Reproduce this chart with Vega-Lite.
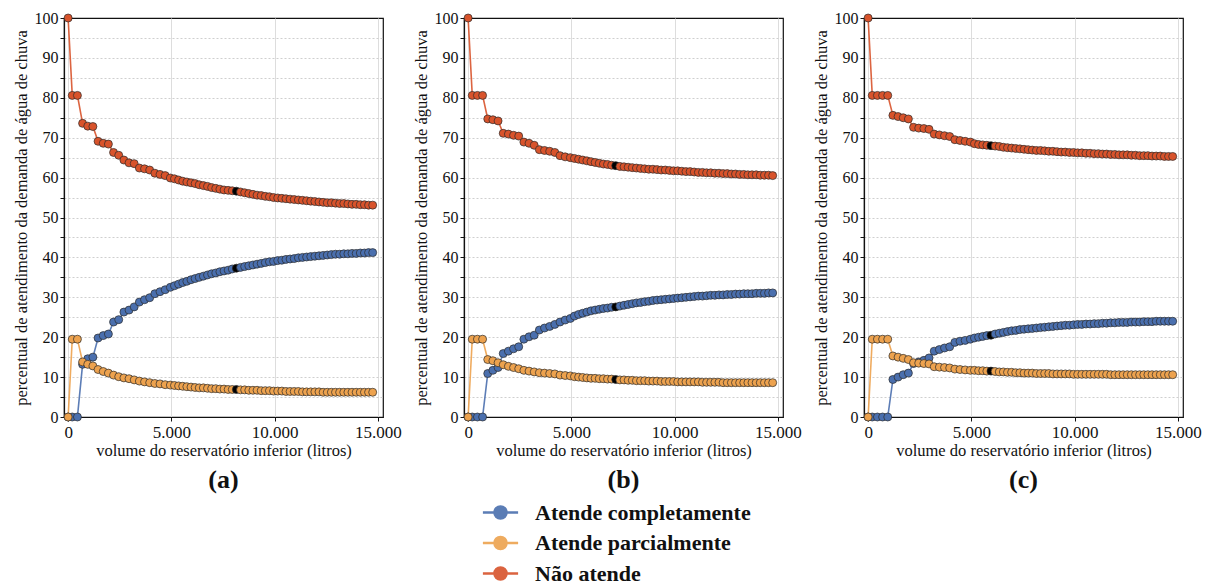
{
  "$schema": "https://vega.github.io/schema/vega-lite/v6.json",
  "background": "white",
  "padding": {"left": 12, "top": 9, "right": 10, "bottom": 0},
  "data": {"values": [
{"g":"(a)","s":"N","x":0,"y":100},{"g":"(a)","s":"N","x":200,"y":80.6},{"g":"(a)","s":"N","x":450,"y":80.6},{"g":"(a)","s":"N","x":700,"y":73.6},{"g":"(a)","s":"N","x":950,"y":72.9},{"g":"(a)","s":"N","x":1200,"y":72.8},{"g":"(a)","s":"N","x":1450,"y":69.1},{"g":"(a)","s":"N","x":1700,"y":68.6},{"g":"(a)","s":"N","x":1950,"y":68.4},{"g":"(a)","s":"N","x":2200,"y":66.3},
{"g":"(a)","s":"N","x":2450,"y":65.6},{"g":"(a)","s":"N","x":2700,"y":64.4},{"g":"(a)","s":"N","x":2950,"y":63.7},{"g":"(a)","s":"N","x":3200,"y":63.5},{"g":"(a)","s":"N","x":3450,"y":62.4},{"g":"(a)","s":"N","x":3700,"y":62.2},{"g":"(a)","s":"N","x":3950,"y":61.9},{"g":"(a)","s":"N","x":4200,"y":61.1},{"g":"(a)","s":"N","x":4450,"y":60.8},{"g":"(a)","s":"N","x":4700,"y":60.5},
{"g":"(a)","s":"N","x":4950,"y":59.9},{"g":"(a)","s":"N","x":5150,"y":59.7},{"g":"(a)","s":"N","x":5350,"y":59.4},{"g":"(a)","s":"N","x":5550,"y":59.1},{"g":"(a)","s":"N","x":5750,"y":58.9},{"g":"(a)","s":"N","x":5950,"y":58.7},{"g":"(a)","s":"N","x":6150,"y":58.5},{"g":"(a)","s":"N","x":6350,"y":58.2},{"g":"(a)","s":"N","x":6550,"y":58.0},{"g":"(a)","s":"N","x":6750,"y":57.8},
{"g":"(a)","s":"N","x":6950,"y":57.5},{"g":"(a)","s":"N","x":7150,"y":57.3},{"g":"(a)","s":"N","x":7350,"y":57.1},{"g":"(a)","s":"N","x":7550,"y":56.9},{"g":"(a)","s":"N","x":7750,"y":56.8},{"g":"(a)","s":"N","x":7950,"y":56.7},{"g":"(a)","s":"N","x":8150,"y":56.6,"h":1},{"g":"(a)","s":"N","x":8350,"y":56.4},{"g":"(a)","s":"N","x":8550,"y":56.2},{"g":"(a)","s":"N","x":8750,"y":56.0},
{"g":"(a)","s":"N","x":8950,"y":55.8},{"g":"(a)","s":"N","x":9150,"y":55.6},{"g":"(a)","s":"N","x":9350,"y":55.5},{"g":"(a)","s":"N","x":9550,"y":55.3},{"g":"(a)","s":"N","x":9750,"y":55.2},{"g":"(a)","s":"N","x":9950,"y":55.0},{"g":"(a)","s":"N","x":10150,"y":54.9},{"g":"(a)","s":"N","x":10350,"y":54.8},{"g":"(a)","s":"N","x":10550,"y":54.7},{"g":"(a)","s":"N","x":10750,"y":54.6},
{"g":"(a)","s":"N","x":10950,"y":54.5},{"g":"(a)","s":"N","x":11150,"y":54.4},{"g":"(a)","s":"N","x":11350,"y":54.3},{"g":"(a)","s":"N","x":11550,"y":54.2},{"g":"(a)","s":"N","x":11750,"y":54.1},{"g":"(a)","s":"N","x":11950,"y":54.0},{"g":"(a)","s":"N","x":12150,"y":53.9},{"g":"(a)","s":"N","x":12350,"y":53.8},{"g":"(a)","s":"N","x":12550,"y":53.7},{"g":"(a)","s":"N","x":12750,"y":53.7},
{"g":"(a)","s":"N","x":12950,"y":53.6},{"g":"(a)","s":"N","x":13150,"y":53.5},{"g":"(a)","s":"N","x":13350,"y":53.5},{"g":"(a)","s":"N","x":13550,"y":53.4},{"g":"(a)","s":"N","x":13750,"y":53.3},{"g":"(a)","s":"N","x":13950,"y":53.3},{"g":"(a)","s":"N","x":14150,"y":53.2},{"g":"(a)","s":"N","x":14350,"y":53.2},{"g":"(a)","s":"N","x":14550,"y":53.1},{"g":"(a)","s":"N","x":14750,"y":53.1},
{"g":"(a)","s":"C","x":0,"y":0},{"g":"(a)","s":"C","x":200,"y":0},{"g":"(a)","s":"C","x":450,"y":0},{"g":"(a)","s":"C","x":700,"y":13.2},{"g":"(a)","s":"C","x":950,"y":14.6},{"g":"(a)","s":"C","x":1200,"y":15.0},{"g":"(a)","s":"C","x":1450,"y":19.8},{"g":"(a)","s":"C","x":1700,"y":20.4},{"g":"(a)","s":"C","x":1950,"y":20.8},{"g":"(a)","s":"C","x":2200,"y":23.8},
{"g":"(a)","s":"C","x":2450,"y":24.4},{"g":"(a)","s":"C","x":2700,"y":26.3},{"g":"(a)","s":"C","x":2950,"y":26.8},{"g":"(a)","s":"C","x":3200,"y":27.6},{"g":"(a)","s":"C","x":3450,"y":28.8},{"g":"(a)","s":"C","x":3700,"y":29.4},{"g":"(a)","s":"C","x":3950,"y":29.9},{"g":"(a)","s":"C","x":4200,"y":30.9},{"g":"(a)","s":"C","x":4450,"y":31.4},{"g":"(a)","s":"C","x":4700,"y":31.9},
{"g":"(a)","s":"C","x":4950,"y":32.5},{"g":"(a)","s":"C","x":5150,"y":32.9},{"g":"(a)","s":"C","x":5350,"y":33.3},{"g":"(a)","s":"C","x":5550,"y":33.7},{"g":"(a)","s":"C","x":5750,"y":34.0},{"g":"(a)","s":"C","x":5950,"y":34.4},{"g":"(a)","s":"C","x":6150,"y":34.7},{"g":"(a)","s":"C","x":6350,"y":35.0},{"g":"(a)","s":"C","x":6550,"y":35.3},{"g":"(a)","s":"C","x":6750,"y":35.6},
{"g":"(a)","s":"C","x":6950,"y":35.9},{"g":"(a)","s":"C","x":7150,"y":36.1},{"g":"(a)","s":"C","x":7350,"y":36.4},{"g":"(a)","s":"C","x":7550,"y":36.6},{"g":"(a)","s":"C","x":7750,"y":36.8},{"g":"(a)","s":"C","x":7950,"y":37.1},{"g":"(a)","s":"C","x":8150,"y":37.3,"h":1},{"g":"(a)","s":"C","x":8350,"y":37.5},{"g":"(a)","s":"C","x":8550,"y":37.7},{"g":"(a)","s":"C","x":8750,"y":37.9},
{"g":"(a)","s":"C","x":8950,"y":38.1},{"g":"(a)","s":"C","x":9150,"y":38.3},{"g":"(a)","s":"C","x":9350,"y":38.5},{"g":"(a)","s":"C","x":9550,"y":38.7},{"g":"(a)","s":"C","x":9750,"y":38.9},{"g":"(a)","s":"C","x":9950,"y":39.0},{"g":"(a)","s":"C","x":10150,"y":39.2},{"g":"(a)","s":"C","x":10350,"y":39.3},{"g":"(a)","s":"C","x":10550,"y":39.5},{"g":"(a)","s":"C","x":10750,"y":39.6},
{"g":"(a)","s":"C","x":10950,"y":39.7},{"g":"(a)","s":"C","x":11150,"y":39.9},{"g":"(a)","s":"C","x":11350,"y":40.0},{"g":"(a)","s":"C","x":11550,"y":40.1},{"g":"(a)","s":"C","x":11750,"y":40.2},{"g":"(a)","s":"C","x":11950,"y":40.3},{"g":"(a)","s":"C","x":12150,"y":40.4},{"g":"(a)","s":"C","x":12350,"y":40.5},{"g":"(a)","s":"C","x":12550,"y":40.6},{"g":"(a)","s":"C","x":12750,"y":40.7},
{"g":"(a)","s":"C","x":12950,"y":40.8},{"g":"(a)","s":"C","x":13150,"y":40.8},{"g":"(a)","s":"C","x":13350,"y":40.9},{"g":"(a)","s":"C","x":13550,"y":40.9},{"g":"(a)","s":"C","x":13750,"y":41.0},{"g":"(a)","s":"C","x":13950,"y":41.0},{"g":"(a)","s":"C","x":14150,"y":41.1},{"g":"(a)","s":"C","x":14350,"y":41.1},{"g":"(a)","s":"C","x":14550,"y":41.2},{"g":"(a)","s":"C","x":14750,"y":41.2},
{"g":"(a)","s":"P","x":0,"y":0},{"g":"(a)","s":"P","x":200,"y":19.5},{"g":"(a)","s":"P","x":450,"y":19.5},{"g":"(a)","s":"P","x":700,"y":13.8},{"g":"(a)","s":"P","x":950,"y":13.2},{"g":"(a)","s":"P","x":1200,"y":12.8},{"g":"(a)","s":"P","x":1450,"y":11.9},{"g":"(a)","s":"P","x":1700,"y":11.4},{"g":"(a)","s":"P","x":1950,"y":11.0},{"g":"(a)","s":"P","x":2200,"y":10.5},
{"g":"(a)","s":"P","x":2450,"y":10.1},{"g":"(a)","s":"P","x":2700,"y":9.8},{"g":"(a)","s":"P","x":2950,"y":9.6},{"g":"(a)","s":"P","x":3200,"y":9.3},{"g":"(a)","s":"P","x":3450,"y":9.0},{"g":"(a)","s":"P","x":3700,"y":8.8},{"g":"(a)","s":"P","x":3950,"y":8.6},{"g":"(a)","s":"P","x":4200,"y":8.4},{"g":"(a)","s":"P","x":4450,"y":8.3},{"g":"(a)","s":"P","x":4700,"y":8.1},
{"g":"(a)","s":"P","x":4950,"y":8.0},{"g":"(a)","s":"P","x":5150,"y":7.9},{"g":"(a)","s":"P","x":5350,"y":7.8},{"g":"(a)","s":"P","x":5550,"y":7.7},{"g":"(a)","s":"P","x":5750,"y":7.6},{"g":"(a)","s":"P","x":5950,"y":7.5},{"g":"(a)","s":"P","x":6150,"y":7.4},{"g":"(a)","s":"P","x":6350,"y":7.3},{"g":"(a)","s":"P","x":6550,"y":7.3},{"g":"(a)","s":"P","x":6750,"y":7.2},
{"g":"(a)","s":"P","x":6950,"y":7.1},{"g":"(a)","s":"P","x":7150,"y":7.1},{"g":"(a)","s":"P","x":7350,"y":7.0},{"g":"(a)","s":"P","x":7550,"y":7.0},{"g":"(a)","s":"P","x":7750,"y":6.9},{"g":"(a)","s":"P","x":7950,"y":6.9},{"g":"(a)","s":"P","x":8150,"y":6.9,"h":1},{"g":"(a)","s":"P","x":8350,"y":6.8},{"g":"(a)","s":"P","x":8550,"y":6.8},{"g":"(a)","s":"P","x":8750,"y":6.7},
{"g":"(a)","s":"P","x":8950,"y":6.7},{"g":"(a)","s":"P","x":9150,"y":6.7},{"g":"(a)","s":"P","x":9350,"y":6.6},{"g":"(a)","s":"P","x":9550,"y":6.6},{"g":"(a)","s":"P","x":9750,"y":6.6},{"g":"(a)","s":"P","x":9950,"y":6.5},{"g":"(a)","s":"P","x":10150,"y":6.5},{"g":"(a)","s":"P","x":10350,"y":6.5},{"g":"(a)","s":"P","x":10550,"y":6.4},{"g":"(a)","s":"P","x":10750,"y":6.4},
{"g":"(a)","s":"P","x":10950,"y":6.4},{"g":"(a)","s":"P","x":11150,"y":6.4},{"g":"(a)","s":"P","x":11350,"y":6.3},{"g":"(a)","s":"P","x":11550,"y":6.3},{"g":"(a)","s":"P","x":11750,"y":6.3},{"g":"(a)","s":"P","x":11950,"y":6.3},{"g":"(a)","s":"P","x":12150,"y":6.3},{"g":"(a)","s":"P","x":12350,"y":6.2},{"g":"(a)","s":"P","x":12550,"y":6.2},{"g":"(a)","s":"P","x":12750,"y":6.2},
{"g":"(a)","s":"P","x":12950,"y":6.2},{"g":"(a)","s":"P","x":13150,"y":6.2},{"g":"(a)","s":"P","x":13350,"y":6.2},{"g":"(a)","s":"P","x":13550,"y":6.2},{"g":"(a)","s":"P","x":13750,"y":6.2},{"g":"(a)","s":"P","x":13950,"y":6.2},{"g":"(a)","s":"P","x":14150,"y":6.2},{"g":"(a)","s":"P","x":14350,"y":6.2},{"g":"(a)","s":"P","x":14550,"y":6.2},{"g":"(a)","s":"P","x":14750,"y":6.2},
{"g":"(b)","s":"N","x":0,"y":100},{"g":"(b)","s":"N","x":200,"y":80.6},{"g":"(b)","s":"N","x":450,"y":80.6},{"g":"(b)","s":"N","x":700,"y":80.6},{"g":"(b)","s":"N","x":950,"y":74.7},{"g":"(b)","s":"N","x":1200,"y":74.5},{"g":"(b)","s":"N","x":1450,"y":74.2},{"g":"(b)","s":"N","x":1700,"y":71.1},{"g":"(b)","s":"N","x":1950,"y":70.9},{"g":"(b)","s":"N","x":2200,"y":70.6},
{"g":"(b)","s":"N","x":2450,"y":70.4},{"g":"(b)","s":"N","x":2700,"y":68.9},{"g":"(b)","s":"N","x":2950,"y":68.6},{"g":"(b)","s":"N","x":3200,"y":68.1},{"g":"(b)","s":"N","x":3450,"y":67.0},{"g":"(b)","s":"N","x":3700,"y":66.8},{"g":"(b)","s":"N","x":3950,"y":66.6},{"g":"(b)","s":"N","x":4200,"y":66.3},{"g":"(b)","s":"N","x":4450,"y":65.5},{"g":"(b)","s":"N","x":4700,"y":65.2},
{"g":"(b)","s":"N","x":4950,"y":65.0},{"g":"(b)","s":"N","x":5150,"y":64.8},{"g":"(b)","s":"N","x":5350,"y":64.6},{"g":"(b)","s":"N","x":5550,"y":64.4},{"g":"(b)","s":"N","x":5750,"y":64.2},{"g":"(b)","s":"N","x":5950,"y":64.0},{"g":"(b)","s":"N","x":6150,"y":63.8},{"g":"(b)","s":"N","x":6350,"y":63.6},{"g":"(b)","s":"N","x":6550,"y":63.4},{"g":"(b)","s":"N","x":6750,"y":63.3},
{"g":"(b)","s":"N","x":6950,"y":63.1},{"g":"(b)","s":"N","x":7150,"y":63.0,"h":1},{"g":"(b)","s":"N","x":7350,"y":62.8},{"g":"(b)","s":"N","x":7550,"y":62.7},{"g":"(b)","s":"N","x":7750,"y":62.6},{"g":"(b)","s":"N","x":7950,"y":62.5},{"g":"(b)","s":"N","x":8150,"y":62.4},{"g":"(b)","s":"N","x":8350,"y":62.3},{"g":"(b)","s":"N","x":8550,"y":62.2},{"g":"(b)","s":"N","x":8750,"y":62.1},
{"g":"(b)","s":"N","x":8950,"y":62.1},{"g":"(b)","s":"N","x":9150,"y":62.0},{"g":"(b)","s":"N","x":9350,"y":61.9},{"g":"(b)","s":"N","x":9550,"y":61.9},{"g":"(b)","s":"N","x":9750,"y":61.8},{"g":"(b)","s":"N","x":9950,"y":61.7},{"g":"(b)","s":"N","x":10150,"y":61.7},{"g":"(b)","s":"N","x":10350,"y":61.6},{"g":"(b)","s":"N","x":10550,"y":61.5},{"g":"(b)","s":"N","x":10750,"y":61.5},
{"g":"(b)","s":"N","x":10950,"y":61.4},{"g":"(b)","s":"N","x":11150,"y":61.3},{"g":"(b)","s":"N","x":11350,"y":61.3},{"g":"(b)","s":"N","x":11550,"y":61.2},{"g":"(b)","s":"N","x":11750,"y":61.2},{"g":"(b)","s":"N","x":11950,"y":61.1},{"g":"(b)","s":"N","x":12150,"y":61.1},{"g":"(b)","s":"N","x":12350,"y":61.0},{"g":"(b)","s":"N","x":12550,"y":61.0},{"g":"(b)","s":"N","x":12750,"y":60.9},
{"g":"(b)","s":"N","x":12950,"y":60.9},{"g":"(b)","s":"N","x":13150,"y":60.8},{"g":"(b)","s":"N","x":13350,"y":60.8},{"g":"(b)","s":"N","x":13550,"y":60.7},{"g":"(b)","s":"N","x":13750,"y":60.7},{"g":"(b)","s":"N","x":13950,"y":60.7},{"g":"(b)","s":"N","x":14150,"y":60.6},{"g":"(b)","s":"N","x":14350,"y":60.6},{"g":"(b)","s":"N","x":14550,"y":60.6},{"g":"(b)","s":"N","x":14750,"y":60.5},
{"g":"(b)","s":"C","x":0,"y":0},{"g":"(b)","s":"C","x":200,"y":0},{"g":"(b)","s":"C","x":450,"y":0},{"g":"(b)","s":"C","x":700,"y":0},{"g":"(b)","s":"C","x":950,"y":10.9},{"g":"(b)","s":"C","x":1200,"y":11.7},{"g":"(b)","s":"C","x":1450,"y":12.4},{"g":"(b)","s":"C","x":1700,"y":15.9},{"g":"(b)","s":"C","x":1950,"y":16.5},{"g":"(b)","s":"C","x":2200,"y":17.1},
{"g":"(b)","s":"C","x":2450,"y":17.6},{"g":"(b)","s":"C","x":2700,"y":19.5},{"g":"(b)","s":"C","x":2950,"y":20.1},{"g":"(b)","s":"C","x":3200,"y":20.5},{"g":"(b)","s":"C","x":3450,"y":21.8},{"g":"(b)","s":"C","x":3700,"y":22.3},{"g":"(b)","s":"C","x":3950,"y":22.7},{"g":"(b)","s":"C","x":4200,"y":23.2},{"g":"(b)","s":"C","x":4450,"y":23.8},{"g":"(b)","s":"C","x":4700,"y":24.3},
{"g":"(b)","s":"C","x":4950,"y":24.7},{"g":"(b)","s":"C","x":5150,"y":25.3},{"g":"(b)","s":"C","x":5350,"y":25.7},{"g":"(b)","s":"C","x":5550,"y":26.0},{"g":"(b)","s":"C","x":5750,"y":26.3},{"g":"(b)","s":"C","x":5950,"y":26.6},{"g":"(b)","s":"C","x":6150,"y":26.8},{"g":"(b)","s":"C","x":6350,"y":27.0},{"g":"(b)","s":"C","x":6550,"y":27.2},{"g":"(b)","s":"C","x":6750,"y":27.3},
{"g":"(b)","s":"C","x":6950,"y":27.5},{"g":"(b)","s":"C","x":7150,"y":27.6,"h":1},{"g":"(b)","s":"C","x":7350,"y":27.8},{"g":"(b)","s":"C","x":7550,"y":28.0},{"g":"(b)","s":"C","x":7750,"y":28.2},{"g":"(b)","s":"C","x":7950,"y":28.4},{"g":"(b)","s":"C","x":8150,"y":28.6},{"g":"(b)","s":"C","x":8350,"y":28.7},{"g":"(b)","s":"C","x":8550,"y":28.9},{"g":"(b)","s":"C","x":8750,"y":29.0},
{"g":"(b)","s":"C","x":8950,"y":29.2},{"g":"(b)","s":"C","x":9150,"y":29.3},{"g":"(b)","s":"C","x":9350,"y":29.4},{"g":"(b)","s":"C","x":9550,"y":29.5},{"g":"(b)","s":"C","x":9750,"y":29.6},{"g":"(b)","s":"C","x":9950,"y":29.7},{"g":"(b)","s":"C","x":10150,"y":29.8},{"g":"(b)","s":"C","x":10350,"y":29.9},{"g":"(b)","s":"C","x":10550,"y":30.0},{"g":"(b)","s":"C","x":10750,"y":30.1},
{"g":"(b)","s":"C","x":10950,"y":30.2},{"g":"(b)","s":"C","x":11150,"y":30.3},{"g":"(b)","s":"C","x":11350,"y":30.3},{"g":"(b)","s":"C","x":11550,"y":30.4},{"g":"(b)","s":"C","x":11750,"y":30.5},{"g":"(b)","s":"C","x":11950,"y":30.5},{"g":"(b)","s":"C","x":12150,"y":30.6},{"g":"(b)","s":"C","x":12350,"y":30.6},{"g":"(b)","s":"C","x":12550,"y":30.7},{"g":"(b)","s":"C","x":12750,"y":30.7},
{"g":"(b)","s":"C","x":12950,"y":30.8},{"g":"(b)","s":"C","x":13150,"y":30.8},{"g":"(b)","s":"C","x":13350,"y":30.9},{"g":"(b)","s":"C","x":13550,"y":30.9},{"g":"(b)","s":"C","x":13750,"y":30.9},{"g":"(b)","s":"C","x":13950,"y":31.0},{"g":"(b)","s":"C","x":14150,"y":31.0},{"g":"(b)","s":"C","x":14350,"y":31.0},{"g":"(b)","s":"C","x":14550,"y":31.1},{"g":"(b)","s":"C","x":14750,"y":31.1},
{"g":"(b)","s":"P","x":0,"y":0},{"g":"(b)","s":"P","x":200,"y":19.5},{"g":"(b)","s":"P","x":450,"y":19.5},{"g":"(b)","s":"P","x":700,"y":19.5},{"g":"(b)","s":"P","x":950,"y":14.4},{"g":"(b)","s":"P","x":1200,"y":14.1},{"g":"(b)","s":"P","x":1450,"y":13.6},{"g":"(b)","s":"P","x":1700,"y":13.1},{"g":"(b)","s":"P","x":1950,"y":12.7},{"g":"(b)","s":"P","x":2200,"y":12.4},
{"g":"(b)","s":"P","x":2450,"y":12.1},{"g":"(b)","s":"P","x":2700,"y":11.7},{"g":"(b)","s":"P","x":2950,"y":11.5},{"g":"(b)","s":"P","x":3200,"y":11.3},{"g":"(b)","s":"P","x":3450,"y":11.1},{"g":"(b)","s":"P","x":3700,"y":11.0},{"g":"(b)","s":"P","x":3950,"y":10.9},{"g":"(b)","s":"P","x":4200,"y":10.8},{"g":"(b)","s":"P","x":4450,"y":10.5},{"g":"(b)","s":"P","x":4700,"y":10.4},
{"g":"(b)","s":"P","x":4950,"y":10.3},{"g":"(b)","s":"P","x":5150,"y":10.1},{"g":"(b)","s":"P","x":5350,"y":10.0},{"g":"(b)","s":"P","x":5550,"y":9.9},{"g":"(b)","s":"P","x":5750,"y":9.8},{"g":"(b)","s":"P","x":5950,"y":9.7},{"g":"(b)","s":"P","x":6150,"y":9.7},{"g":"(b)","s":"P","x":6350,"y":9.6},{"g":"(b)","s":"P","x":6550,"y":9.6},{"g":"(b)","s":"P","x":6750,"y":9.5},
{"g":"(b)","s":"P","x":6950,"y":9.5},{"g":"(b)","s":"P","x":7150,"y":9.4,"h":1},{"g":"(b)","s":"P","x":7350,"y":9.3},{"g":"(b)","s":"P","x":7550,"y":9.3},{"g":"(b)","s":"P","x":7750,"y":9.2},{"g":"(b)","s":"P","x":7950,"y":9.2},{"g":"(b)","s":"P","x":8150,"y":9.1},{"g":"(b)","s":"P","x":8350,"y":9.1},{"g":"(b)","s":"P","x":8550,"y":9.1},{"g":"(b)","s":"P","x":8750,"y":9.0},
{"g":"(b)","s":"P","x":8950,"y":9.0},{"g":"(b)","s":"P","x":9150,"y":9.0},{"g":"(b)","s":"P","x":9350,"y":8.9},{"g":"(b)","s":"P","x":9550,"y":8.9},{"g":"(b)","s":"P","x":9750,"y":8.9},{"g":"(b)","s":"P","x":9950,"y":8.9},{"g":"(b)","s":"P","x":10150,"y":8.8},{"g":"(b)","s":"P","x":10350,"y":8.8},{"g":"(b)","s":"P","x":10550,"y":8.8},{"g":"(b)","s":"P","x":10750,"y":8.8},
{"g":"(b)","s":"P","x":10950,"y":8.8},{"g":"(b)","s":"P","x":11150,"y":8.8},{"g":"(b)","s":"P","x":11350,"y":8.7},{"g":"(b)","s":"P","x":11550,"y":8.7},{"g":"(b)","s":"P","x":11750,"y":8.7},{"g":"(b)","s":"P","x":11950,"y":8.7},{"g":"(b)","s":"P","x":12150,"y":8.7},{"g":"(b)","s":"P","x":12350,"y":8.6},{"g":"(b)","s":"P","x":12550,"y":8.6},{"g":"(b)","s":"P","x":12750,"y":8.6},
{"g":"(b)","s":"P","x":12950,"y":8.6},{"g":"(b)","s":"P","x":13150,"y":8.6},{"g":"(b)","s":"P","x":13350,"y":8.6},{"g":"(b)","s":"P","x":13550,"y":8.6},{"g":"(b)","s":"P","x":13750,"y":8.6},{"g":"(b)","s":"P","x":13950,"y":8.6},{"g":"(b)","s":"P","x":14150,"y":8.6},{"g":"(b)","s":"P","x":14350,"y":8.6},{"g":"(b)","s":"P","x":14550,"y":8.6},{"g":"(b)","s":"P","x":14750,"y":8.6},
{"g":"(c)","s":"N","x":0,"y":100},{"g":"(c)","s":"N","x":200,"y":80.6},{"g":"(c)","s":"N","x":450,"y":80.6},{"g":"(c)","s":"N","x":700,"y":80.6},{"g":"(c)","s":"N","x":950,"y":80.6},{"g":"(c)","s":"N","x":1200,"y":75.6},{"g":"(c)","s":"N","x":1450,"y":75.3},{"g":"(c)","s":"N","x":1700,"y":75.0},{"g":"(c)","s":"N","x":1950,"y":74.7},{"g":"(c)","s":"N","x":2200,"y":72.6},
{"g":"(c)","s":"N","x":2450,"y":72.4},{"g":"(c)","s":"N","x":2700,"y":72.3},{"g":"(c)","s":"N","x":2950,"y":72.1},{"g":"(c)","s":"N","x":3200,"y":70.9},{"g":"(c)","s":"N","x":3450,"y":70.7},{"g":"(c)","s":"N","x":3700,"y":70.5},{"g":"(c)","s":"N","x":3950,"y":70.3},{"g":"(c)","s":"N","x":4200,"y":69.5},{"g":"(c)","s":"N","x":4450,"y":69.3},{"g":"(c)","s":"N","x":4700,"y":69.1},
{"g":"(c)","s":"N","x":4950,"y":68.9},{"g":"(c)","s":"N","x":5150,"y":68.5},{"g":"(c)","s":"N","x":5350,"y":68.3},{"g":"(c)","s":"N","x":5550,"y":68.2},{"g":"(c)","s":"N","x":5750,"y":68.1},{"g":"(c)","s":"N","x":5950,"y":68.0,"h":1},{"g":"(c)","s":"N","x":6150,"y":67.9},{"g":"(c)","s":"N","x":6350,"y":67.8},{"g":"(c)","s":"N","x":6550,"y":67.6},{"g":"(c)","s":"N","x":6750,"y":67.5},
{"g":"(c)","s":"N","x":6950,"y":67.4},{"g":"(c)","s":"N","x":7150,"y":67.3},{"g":"(c)","s":"N","x":7350,"y":67.2},{"g":"(c)","s":"N","x":7550,"y":67.1},{"g":"(c)","s":"N","x":7750,"y":67.0},{"g":"(c)","s":"N","x":7950,"y":66.9},{"g":"(c)","s":"N","x":8150,"y":66.8},{"g":"(c)","s":"N","x":8350,"y":66.8},{"g":"(c)","s":"N","x":8550,"y":66.7},{"g":"(c)","s":"N","x":8750,"y":66.6},
{"g":"(c)","s":"N","x":8950,"y":66.6},{"g":"(c)","s":"N","x":9150,"y":66.5},{"g":"(c)","s":"N","x":9350,"y":66.4},{"g":"(c)","s":"N","x":9550,"y":66.4},{"g":"(c)","s":"N","x":9750,"y":66.3},{"g":"(c)","s":"N","x":9950,"y":66.3},{"g":"(c)","s":"N","x":10150,"y":66.2},{"g":"(c)","s":"N","x":10350,"y":66.2},{"g":"(c)","s":"N","x":10550,"y":66.1},{"g":"(c)","s":"N","x":10750,"y":66.1},
{"g":"(c)","s":"N","x":10950,"y":66.0},{"g":"(c)","s":"N","x":11150,"y":66.0},{"g":"(c)","s":"N","x":11350,"y":65.9},{"g":"(c)","s":"N","x":11550,"y":65.9},{"g":"(c)","s":"N","x":11750,"y":65.8},{"g":"(c)","s":"N","x":11950,"y":65.8},{"g":"(c)","s":"N","x":12150,"y":65.7},{"g":"(c)","s":"N","x":12350,"y":65.7},{"g":"(c)","s":"N","x":12550,"y":65.7},{"g":"(c)","s":"N","x":12750,"y":65.6},
{"g":"(c)","s":"N","x":12950,"y":65.6},{"g":"(c)","s":"N","x":13150,"y":65.5},{"g":"(c)","s":"N","x":13350,"y":65.5},{"g":"(c)","s":"N","x":13550,"y":65.5},{"g":"(c)","s":"N","x":13750,"y":65.4},{"g":"(c)","s":"N","x":13950,"y":65.4},{"g":"(c)","s":"N","x":14150,"y":65.4},{"g":"(c)","s":"N","x":14350,"y":65.3},{"g":"(c)","s":"N","x":14550,"y":65.3},{"g":"(c)","s":"N","x":14750,"y":65.3},
{"g":"(c)","s":"C","x":0,"y":0},{"g":"(c)","s":"C","x":200,"y":0},{"g":"(c)","s":"C","x":450,"y":0},{"g":"(c)","s":"C","x":700,"y":0},{"g":"(c)","s":"C","x":950,"y":0},{"g":"(c)","s":"C","x":1200,"y":9.4},{"g":"(c)","s":"C","x":1450,"y":10.0},{"g":"(c)","s":"C","x":1700,"y":10.6},{"g":"(c)","s":"C","x":1950,"y":11.0},{"g":"(c)","s":"C","x":2200,"y":13.4},
{"g":"(c)","s":"C","x":2450,"y":13.8},{"g":"(c)","s":"C","x":2700,"y":14.2},{"g":"(c)","s":"C","x":2950,"y":14.8},{"g":"(c)","s":"C","x":3200,"y":16.5},{"g":"(c)","s":"C","x":3450,"y":16.9},{"g":"(c)","s":"C","x":3700,"y":17.3},{"g":"(c)","s":"C","x":3950,"y":17.6},{"g":"(c)","s":"C","x":4200,"y":18.7},{"g":"(c)","s":"C","x":4450,"y":19.0},{"g":"(c)","s":"C","x":4700,"y":19.2},
{"g":"(c)","s":"C","x":4950,"y":19.5},{"g":"(c)","s":"C","x":5150,"y":19.8},{"g":"(c)","s":"C","x":5350,"y":20.0},{"g":"(c)","s":"C","x":5550,"y":20.2},{"g":"(c)","s":"C","x":5750,"y":20.4},{"g":"(c)","s":"C","x":5950,"y":20.5,"h":1},{"g":"(c)","s":"C","x":6150,"y":20.8},{"g":"(c)","s":"C","x":6350,"y":21.0},{"g":"(c)","s":"C","x":6550,"y":21.2},{"g":"(c)","s":"C","x":6750,"y":21.4},
{"g":"(c)","s":"C","x":6950,"y":21.6},{"g":"(c)","s":"C","x":7150,"y":21.7},{"g":"(c)","s":"C","x":7350,"y":21.9},{"g":"(c)","s":"C","x":7550,"y":22.0},{"g":"(c)","s":"C","x":7750,"y":22.1},{"g":"(c)","s":"C","x":7950,"y":22.2},{"g":"(c)","s":"C","x":8150,"y":22.3},{"g":"(c)","s":"C","x":8350,"y":22.4},{"g":"(c)","s":"C","x":8550,"y":22.5},{"g":"(c)","s":"C","x":8750,"y":22.6},
{"g":"(c)","s":"C","x":8950,"y":22.7},{"g":"(c)","s":"C","x":9150,"y":22.8},{"g":"(c)","s":"C","x":9350,"y":22.9},{"g":"(c)","s":"C","x":9550,"y":23.0},{"g":"(c)","s":"C","x":9750,"y":23.0},{"g":"(c)","s":"C","x":9950,"y":23.1},{"g":"(c)","s":"C","x":10150,"y":23.2},{"g":"(c)","s":"C","x":10350,"y":23.2},{"g":"(c)","s":"C","x":10550,"y":23.3},{"g":"(c)","s":"C","x":10750,"y":23.3},
{"g":"(c)","s":"C","x":10950,"y":23.4},{"g":"(c)","s":"C","x":11150,"y":23.4},{"g":"(c)","s":"C","x":11350,"y":23.5},{"g":"(c)","s":"C","x":11550,"y":23.5},{"g":"(c)","s":"C","x":11750,"y":23.6},{"g":"(c)","s":"C","x":11950,"y":23.6},{"g":"(c)","s":"C","x":12150,"y":23.7},{"g":"(c)","s":"C","x":12350,"y":23.7},{"g":"(c)","s":"C","x":12550,"y":23.7},{"g":"(c)","s":"C","x":12750,"y":23.8},
{"g":"(c)","s":"C","x":12950,"y":23.8},{"g":"(c)","s":"C","x":13150,"y":23.8},{"g":"(c)","s":"C","x":13350,"y":23.9},{"g":"(c)","s":"C","x":13550,"y":23.9},{"g":"(c)","s":"C","x":13750,"y":23.9},{"g":"(c)","s":"C","x":13950,"y":24.0},{"g":"(c)","s":"C","x":14150,"y":24.0},{"g":"(c)","s":"C","x":14350,"y":24.0},{"g":"(c)","s":"C","x":14550,"y":24.0},{"g":"(c)","s":"C","x":14750,"y":24.0},
{"g":"(c)","s":"P","x":0,"y":0},{"g":"(c)","s":"P","x":200,"y":19.5},{"g":"(c)","s":"P","x":450,"y":19.5},{"g":"(c)","s":"P","x":700,"y":19.5},{"g":"(c)","s":"P","x":950,"y":19.5},{"g":"(c)","s":"P","x":1200,"y":15.3},{"g":"(c)","s":"P","x":1450,"y":15.0},{"g":"(c)","s":"P","x":1700,"y":14.7},{"g":"(c)","s":"P","x":1950,"y":14.4},{"g":"(c)","s":"P","x":2200,"y":13.6},
{"g":"(c)","s":"P","x":2450,"y":13.5},{"g":"(c)","s":"P","x":2700,"y":13.4},{"g":"(c)","s":"P","x":2950,"y":13.3},{"g":"(c)","s":"P","x":3200,"y":12.6},{"g":"(c)","s":"P","x":3450,"y":12.5},{"g":"(c)","s":"P","x":3700,"y":12.4},{"g":"(c)","s":"P","x":3950,"y":12.3},{"g":"(c)","s":"P","x":4200,"y":12.0},{"g":"(c)","s":"P","x":4450,"y":11.9},{"g":"(c)","s":"P","x":4700,"y":11.8},
{"g":"(c)","s":"P","x":4950,"y":11.7},{"g":"(c)","s":"P","x":5150,"y":11.7},{"g":"(c)","s":"P","x":5350,"y":11.6},{"g":"(c)","s":"P","x":5550,"y":11.6},{"g":"(c)","s":"P","x":5750,"y":11.5},{"g":"(c)","s":"P","x":5950,"y":11.5,"h":1},{"g":"(c)","s":"P","x":6150,"y":11.4},{"g":"(c)","s":"P","x":6350,"y":11.3},{"g":"(c)","s":"P","x":6550,"y":11.3},{"g":"(c)","s":"P","x":6750,"y":11.2},
{"g":"(c)","s":"P","x":6950,"y":11.2},{"g":"(c)","s":"P","x":7150,"y":11.1},{"g":"(c)","s":"P","x":7350,"y":11.1},{"g":"(c)","s":"P","x":7550,"y":11.0},{"g":"(c)","s":"P","x":7750,"y":11.0},{"g":"(c)","s":"P","x":7950,"y":11.0},{"g":"(c)","s":"P","x":8150,"y":10.9},{"g":"(c)","s":"P","x":8350,"y":10.9},{"g":"(c)","s":"P","x":8550,"y":10.9},{"g":"(c)","s":"P","x":8750,"y":10.9},
{"g":"(c)","s":"P","x":8950,"y":10.8},{"g":"(c)","s":"P","x":9150,"y":10.8},{"g":"(c)","s":"P","x":9350,"y":10.8},{"g":"(c)","s":"P","x":9550,"y":10.8},{"g":"(c)","s":"P","x":9750,"y":10.8},{"g":"(c)","s":"P","x":9950,"y":10.7},{"g":"(c)","s":"P","x":10150,"y":10.7},{"g":"(c)","s":"P","x":10350,"y":10.7},{"g":"(c)","s":"P","x":10550,"y":10.7},{"g":"(c)","s":"P","x":10750,"y":10.7},
{"g":"(c)","s":"P","x":10950,"y":10.7},{"g":"(c)","s":"P","x":11150,"y":10.7},{"g":"(c)","s":"P","x":11350,"y":10.7},{"g":"(c)","s":"P","x":11550,"y":10.7},{"g":"(c)","s":"P","x":11750,"y":10.6},{"g":"(c)","s":"P","x":11950,"y":10.6},{"g":"(c)","s":"P","x":12150,"y":10.6},{"g":"(c)","s":"P","x":12350,"y":10.6},{"g":"(c)","s":"P","x":12550,"y":10.6},{"g":"(c)","s":"P","x":12750,"y":10.6},
{"g":"(c)","s":"P","x":12950,"y":10.6},{"g":"(c)","s":"P","x":13150,"y":10.6},{"g":"(c)","s":"P","x":13350,"y":10.6},{"g":"(c)","s":"P","x":13550,"y":10.6},{"g":"(c)","s":"P","x":13750,"y":10.6},{"g":"(c)","s":"P","x":13950,"y":10.6},{"g":"(c)","s":"P","x":14150,"y":10.6},{"g":"(c)","s":"P","x":14350,"y":10.6},{"g":"(c)","s":"P","x":14550,"y":10.6},{"g":"(c)","s":"P","x":14750,"y":10.6}
  ]},
  "facet": {
    "column": {
      "field": "g", "type": "nominal",
      "header": {"title": null, "labelOrient": "bottom", "labelFont": "Liberation Serif", "labelFontSize": 26, "labelFontWeight": "bold", "labelColor": "#111", "labelPadding": 50}
    }
  },
  "spacing": 81,
  "bounds": "flush",
  "resolve": {"axis": {"x": "independent", "y": "independent"}},
  "spec": {
    "width": 319,
    "height": 399,
    "encoding": {
      "x": {
        "field": "x", "type": "quantitative",
        "scale": {"domain": [-200, 15250], "nice": false, "zero": false},
        "axis": {
          "title": "volume do reservatório inferior (litros)",
          "values": [0, 5000, 10000, 15000],
          "labelExpr": "replace(format(datum.value, ','), ',', '.')",
          "labelFontSize": 17, "titleFontSize": 16.5, "titlePadding": 2,
          "labelPadding": 3, "tickSize": 4, "labelFlush": false,
          "grid": true, "gridColor": "#dddddd", "gridWidth": 1
        }
      },
      "y": {
        "field": "y", "type": "quantitative",
        "scale": {"domain": [0, 100], "nice": false},
        "axis": {
          "title": "percentual de atendimento da demanda de água de chuva",
          "values": [0,5,10,15,20,25,30,35,40,45,50,55,60,65,70,75,80,85,90,95,100],
          "labelExpr": "datum.value % 10 == 0 ? datum.label : ''",
          "labelFontSize": 16, "titleFontSize": 16.5, "titlePadding": 5,
          "labelPadding": 2, "tickSize": 4,
          "grid": true, "gridDash": [2, 2], "gridWidth": 1,
          "gridColor": {"condition": {"test": "datum.value >= 100", "value": "transparent"}, "value": "#cfcfcf"}
        }
      }
    },
    "layer": [
      {
        "mark": {"type": "line", "strokeWidth": 1.6, "opacity": 0.9},
        "encoding": {
          "color": {
            "field": "s", "type": "nominal",
            "scale": {"domain": ["C", "P", "N"], "range": ["#4a6fae", "#eda24e", "#d8532b"]},
            "legend": {
              "orient": "none", "legendX": 424, "legendY": 482, "title": null, "direction": "vertical", "padding": 0,
              "labelExpr": "datum.value == 'C' ? 'Atende completamente' : datum.value == 'P' ? 'Atende parcialmente' : 'Não atende'",
              "labelFont": "Liberation Serif", "labelFontSize": 22, "labelFontWeight": "bold", "labelColor": "#111", "labelLimit": 400,
              "symbolType": "M-1.6,0L-0.55,0M0.55,0L1.6,0M0.55,0A0.55,0.55,0,1,1,-0.55,0A0.55,0.55,0,1,1,0.55,0Z",
              "symbolSize": 484, "symbolStrokeWidth": 2.5, "rowPadding": 6.5, "labelOffset": 22
            }
          }
        }
      },
      {
        "mark": {"type": "point", "shape": "circle", "filled": true, "size": 64, "stroke": "#2b2b2b", "strokeWidth": 0.7, "opacity": 1},
        "encoding": {
          "color": {
            "condition": {"test": "datum.h == 1", "value": "#000000"},
            "field": "s", "type": "nominal",
            "scale": {"domain": ["C", "P", "N"], "range": ["#4a6fae", "#eda24e", "#d8532b"]}
          }
        }
      }
    ]
  },
  "config": {
    "font": "Liberation Serif",
    "view": {"stroke": "#111111", "strokeWidth": 1.2},
    "axis": {
      "labelFont": "Liberation Serif", "titleFont": "Liberation Serif", "titleFontWeight": "normal",
      "labelColor": "#111111", "titleColor": "#111111", "domainColor": "#111111", "tickColor": "#111111",
      "domainWidth": 1.2
    }
  }
}
